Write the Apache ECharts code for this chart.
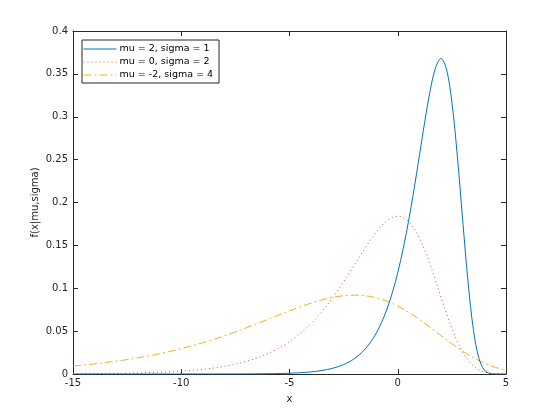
<!DOCTYPE html>
<html><head><meta charset="utf-8">
<script src="https://cdn.jsdelivr.net/npm/echarts@6/dist/echarts.min.js"></script>
<style>html,body{margin:0;padding:0;background:#fff}#c{width:560px;height:420px}</style>
</head><body><div id="c"></div>
<script>
const xs = [-15,-14.75,-14.5,-14.25,-14,-13.75,-13.5,-13.25,-13,-12.75,-12.5,-12.25,-12,-11.75,-11.5,-11.25,-11,-10.75,-10.5,-10.25,-10,-9.75,-9.5,-9.25,-9,-8.75,-8.5,-8.25,-8,-7.75,-7.5,-7.25,-7,-6.75,-6.5,-6.25,-6,-5.75,-5.5,-5.25,-5,-4.75,-4.5,-4.25,-4,-3.75,-3.5,-3.25,-3,-2.75,-2.5,-2.25,-2,-1.75,-1.5,-1.25,-1,-0.75,-0.5,-0.25,0,0.25,0.5,0.75,1,1.25,1.5,1.75,2,2.25,2.5,2.75,3,3.25,3.5,3.75,4,4.25,4.5,4.75,5];
const ys1 = [0,0,0,0,0,0,0,0,0,0,0,0,0,0,0,0,0,0,0,0,
0.00001,0.00001,0.00001,0.00001,0.00002,0.00002,0.00003,0.00004,0.00005,0.00006,0.00007,0.00010,0.00012,0.00016,0.00020,0.00026,0.00034,0.00043,0.00055,0.00071,
0.00091,0.00117,0.00150,0.00193,0.00247,0.00317,0.00407,0.00522,0.00669,0.00858,0.01099,0.01406,0.01798,0.02297,0.02930,0.03730,0.04737,0.05997,0.07562,0.09486,0.11820,0.14606,0.17851,0.21513,0.25465,0.29453,0.33070,0.35744,0.36788,0.35557,0.31704,0.25487,0.17937,0.10642,0.05071,0.01823,0.00457,0.00072,0.00006,0,0];
const ys2 = [0.00028,0.00031,0.00035,0.00040,0.00046,0.00052,0.00059,0.00066,0.00075,0.00085,0.00096,0.00109,0.00124,0.00140,0.00159,0.00180,0.00204,0.00230,0.00261,0.00296,
0.00335,0.00379,0.00429,0.00485,0.00549,0.00622,0.00703,0.00795,0.00899,0.01016,0.01149,0.01297,0.01465,0.01653,0.01865,0.02102,0.02368,0.02666,0.02998,0.03369,
0.03781,0.04238,0.04743,0.05299,0.05910,0.06578,0.07303,0.08086,0.08925,0.09818,0.10757,0.11733,0.12732,0.13738,0.14727,0.15670,0.16535,0.17283,0.17872,0.18257,
0.18394,0.18245,0.17779,0.16980,0.15852,0.14422,0.12744,0.10893,0.08969,0.07077,0.05321,0.03788,0.02535,0.01582,0.00912,0.00480,0.00228,0.00097,0.00036,0.00012,0.00003];
const xs3 = [-15,-14.5,-14,-13.5,-13,-12.5,-12,-11.5,-11,-10.5,-10,-9.5,-9,-8.5,-8,-7.5,-7,-6.5,-6,-5.5,-5,-4.5,-4,-3.5,-3,-2.5,-2,-1.5,-1,-0.5,0,0.5,1,1.5,2,2.5,3,3.5,4,4.5,5];
const ys3 = [0.00933,0.01051,0.01184,0.01333,0.01499,0.01685,0.01890,0.02119,0.02371,0.02650,0.02955,0.03289,0.03651,0.04043,0.04463,0.04909,0.05378,0.05866,0.06366,0.06869,0.07363,0.07835,0.08268,0.08642,0.08936,0.09128,0.09197,0.09122,0.08889,0.08490,0.07926,0.07211,0.06372,0.05447,0.04484,0.03538,0.02661,0.01894,0.01268,0.00791,0.00456];
const names = ['mu = 2, sigma = 1','mu = 0, sigma = 2','mu = -2, sigma = 4'];
const colors = ['#0072BD','#D95319','#EDB120'];

const zip = (a,b) => a.map((v,i)=>[v,b[i]]);
const font = 'DejaVu Sans';
const axCol = '#262626';
const chart = echarts.init(document.getElementById('c'), null, {renderer:'canvas'});
const baseX = {type:'value', min:-15, max:5, interval:5,
  axisLine:{show:true,onZero:false,lineStyle:{color:axCol,width:1}},
  axisTick:{show:true,inside:true,length:5,lineStyle:{color:axCol}},
  splitLine:{show:false}};
const baseY = {type:'value', min:0, max:0.4, interval:0.05,
  axisLine:{show:true,onZero:false,lineStyle:{color:axCol,width:1}},
  axisTick:{show:true,inside:true,length:5,lineStyle:{color:axCol}},
  splitLine:{show:false}};
chart.setOption({
  animation:false,
  backgroundColor:'#fff',
  grid:{left:73,right:54,top:31,bottom:46,containLabel:false},
  xAxis:[
    Object.assign({}, baseX, {position:'bottom', name:'x', nameLocation:'middle', nameGap:20, nameMoveOverlap:false,
      nameTextStyle:{color:axCol,fontFamily:font,fontSize:10},
      axisLabel:{color:axCol,fontFamily:font,fontSize:10,margin:4}}),
    Object.assign({}, baseX, {position:'top', axisLabel:{show:false}})
  ],
  yAxis:[
    Object.assign({}, baseY, {position:'left', name:'f(x|mu,sigma)', nameLocation:'middle', nameGap:33, nameMoveOverlap:false,
      nameTextStyle:{color:axCol,fontFamily:font,fontSize:10},
      axisLabel:{color:axCol,fontFamily:font,fontSize:10,margin:5}}),
    Object.assign({}, baseY, {position:'right', axisLabel:{show:false}})
  ],
  legend:{
    orient:'vertical', left:82, top:40,
    backgroundColor:'#fff', borderColor:axCol, borderWidth:1,
    padding:[4,6,3,1], itemGap:3, itemWidth:33, itemHeight:10,
    itemStyle:{color:'rgba(0,0,0,0)', borderWidth:0, opacity:0},
    lineStyle:{width:1},
    textStyle:{color:'#000',fontFamily:font,fontSize:9.5, padding:[0,0,0,-2]},
    data:names
  },
  series:[
    {name:names[0], type:'line', data:zip(xs,ys1), showSymbol:false, symbol:'none', smooth:0.35,
      lineStyle:{color:colors[0], width:1}, itemStyle:{color:colors[0]}, z:5},
    {name:names[1], type:'line', data:zip(xs,ys2), showSymbol:false, symbol:'none', smooth:0.35,
      lineStyle:{color:colors[1], width:1, type:[1,3]}, itemStyle:{color:colors[1]}, z:4},
    {name:names[2], type:'line', data:zip(xs3,ys3), showSymbol:false, symbol:'none', smooth:0.35,
      lineStyle:{color:colors[2], width:1, type:[8,3,2,3]}, itemStyle:{color:colors[2]}, z:3}
  ]
});
</script></body></html>
